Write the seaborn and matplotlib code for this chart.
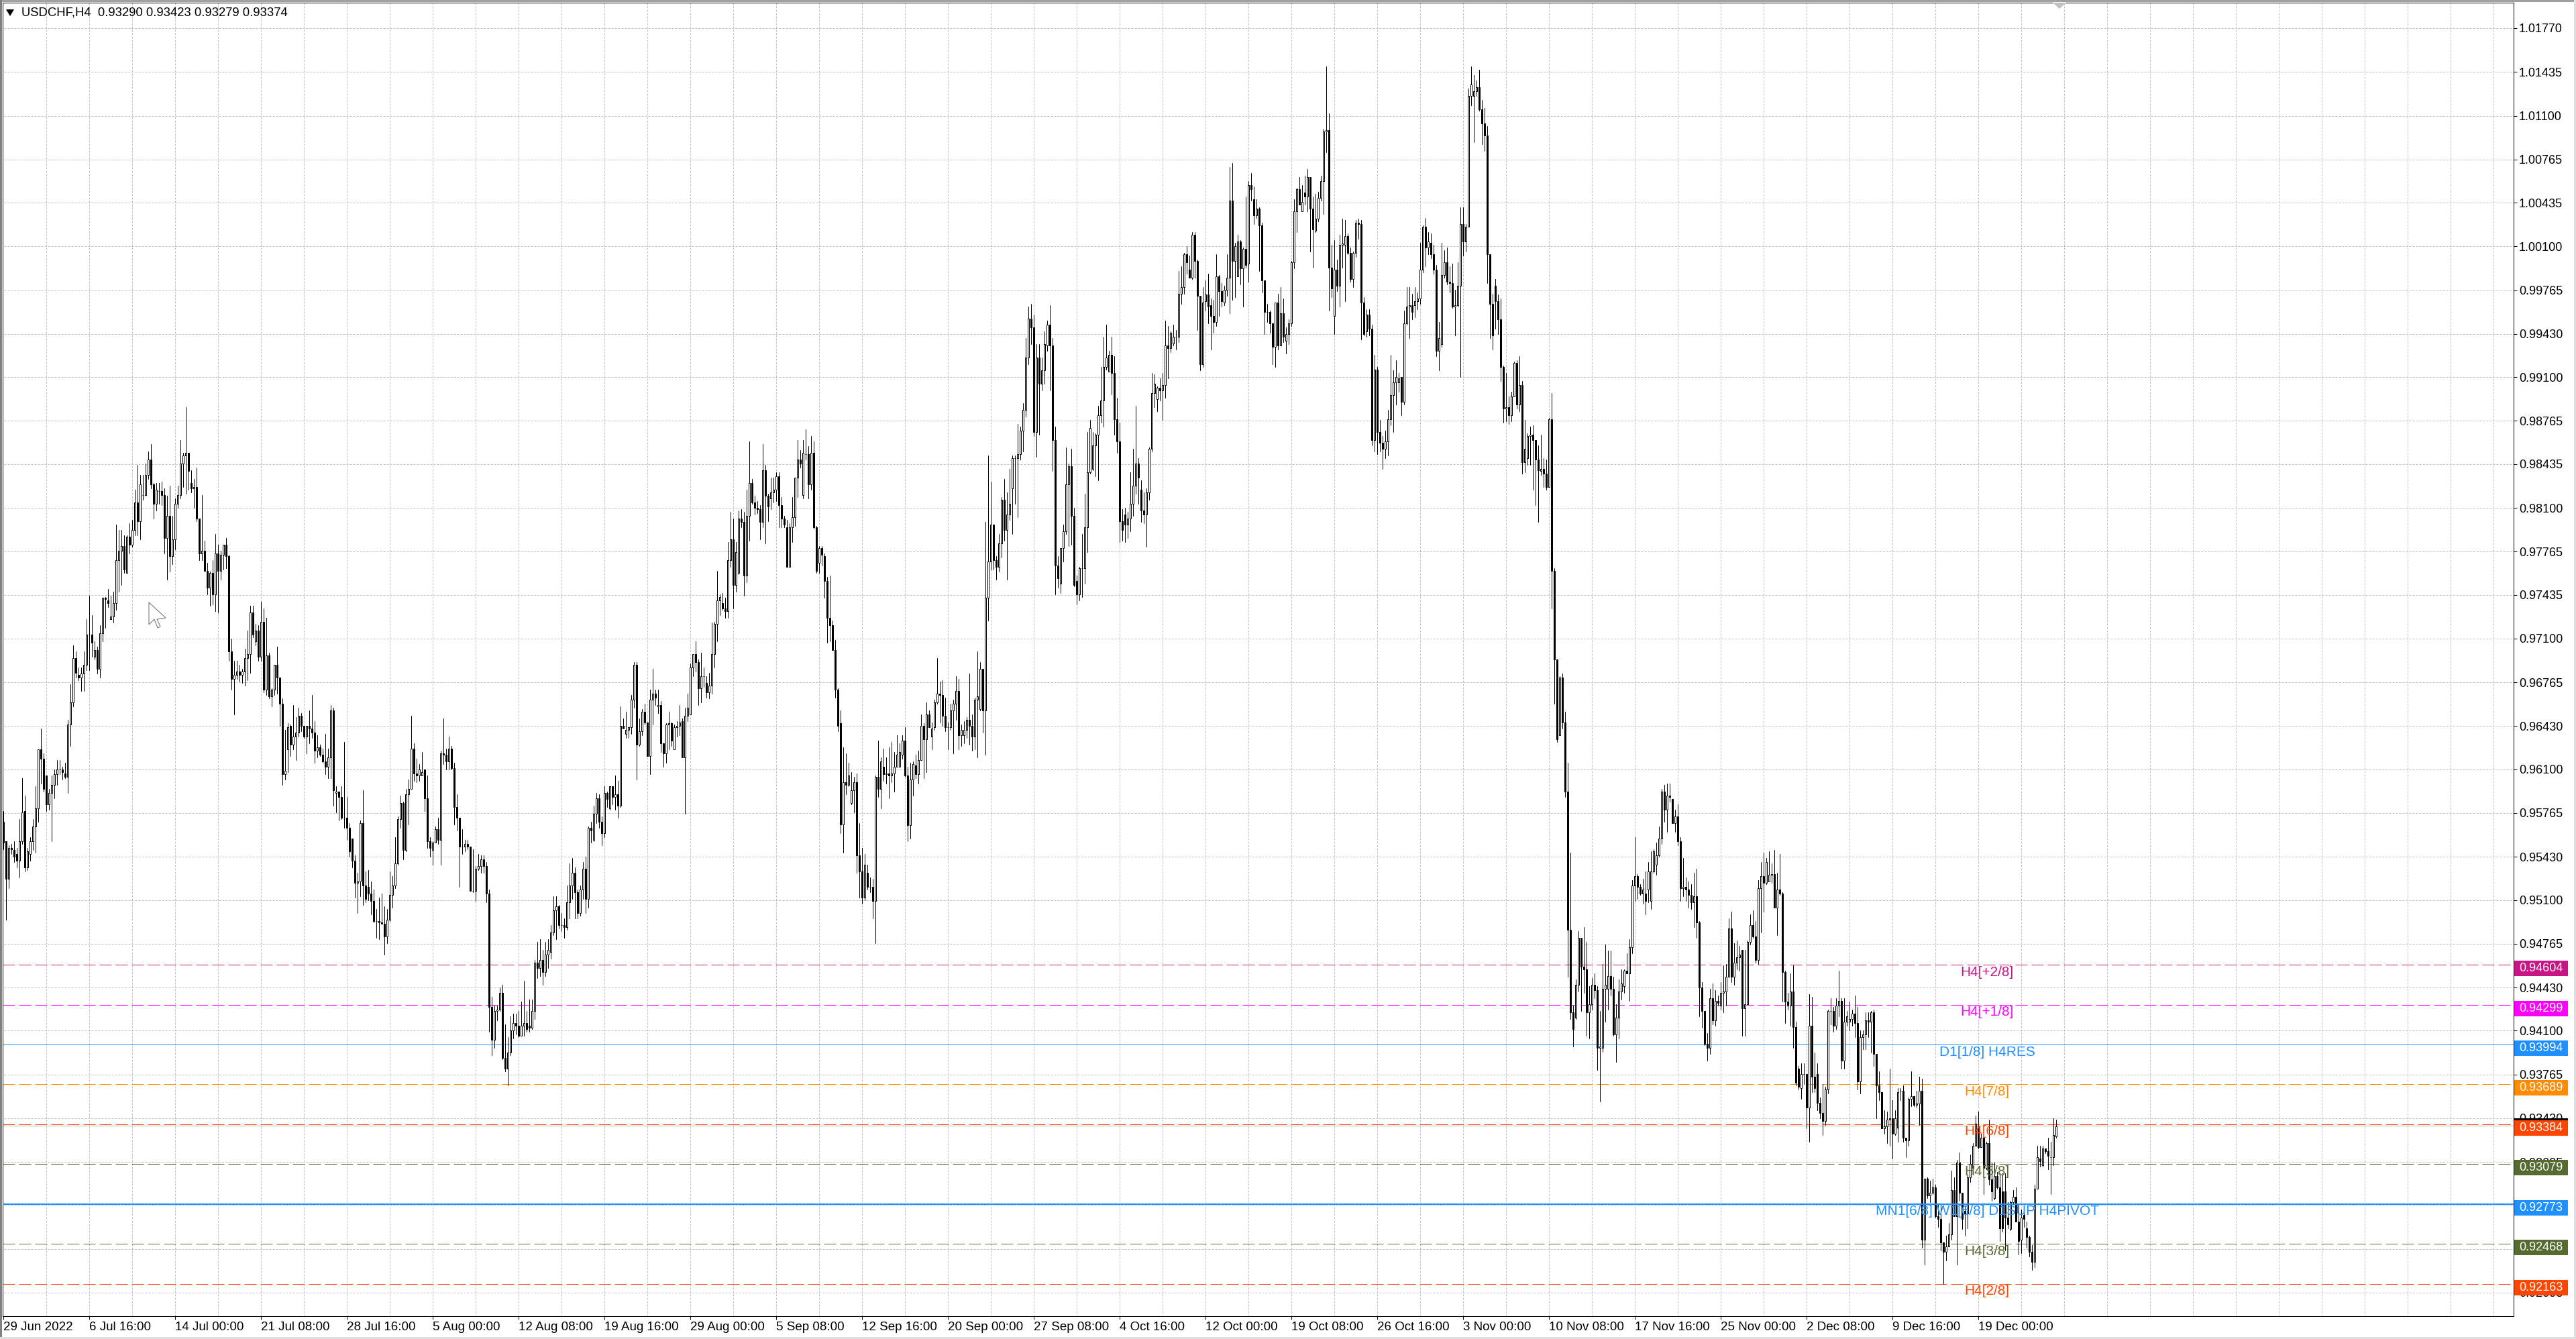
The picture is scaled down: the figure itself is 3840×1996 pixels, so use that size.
import numpy as np
import pandas as pd
import matplotlib
matplotlib.use('Agg')
import matplotlib.pyplot as plt
from matplotlib.patches import Polygon, Rectangle
from matplotlib.transforms import IdentityTransform
import seaborn as sns

# USDCHF H4 candles, in units of 0.0001
opens = [
9570,9555,9526,9550,9548,9545,9540,9555,9578,9535,9545,9555,9566,9580,9625,9618,9605,9583,9592,9598,
9606,9610,9610,9607,9604,9644,9661,9695,9682,9680,9683,9690,9713,9713,9696,9701,9687,9714,9741,9739,
9725,9727,9737,9770,9777,9781,9760,9788,9782,9793,9814,9800,9820,9820,9835,9847,9828,9813,9823,9823,
9820,9787,9804,9773,9786,9813,9820,9844,9850,9852,9829,9825,9826,9802,9775,9777,9762,9749,9760,9744,
9775,9762,9774,9782,9773,9700,9679,9682,9685,9682,9685,9695,9698,9730,9708,9716,9696,9723,9671,9697,
9666,9671,9690,9680,9660,9606,9625,9643,9629,9635,9638,9651,9643,9635,9643,9641,9638,9624,9627,9621,
9616,9612,9619,9655,9592,9593,9589,9573,9573,9565,9557,9540,9523,9524,9569,9521,9520,9515,9509,9494,
9494,9493,9492,9482,9495,9514,9521,9538,9572,9584,9548,9591,9595,9626,9607,9605,9605,9610,9588,9555,
9548,9554,9564,9556,9622,9621,9616,9626,9611,9581,9573,9551,9551,9553,9551,9517,9517,9534,9536,9541,
9536,9515,9428,9403,9425,9426,9439,9389,9381,9393,9410,9416,9414,9406,9414,9416,9414,9412,9425,9462,
9458,9464,9455,9468,9470,9485,9502,9505,9491,9491,9489,9508,9521,9531,9516,9500,9518,9534,9511,9565,
9556,9576,9588,9570,9561,9592,9580,9597,9589,9591,9582,9643,9637,9640,9642,9663,9690,9629,9639,9654,
9646,9620,9663,9668,9658,9659,9630,9622,9644,9645,9625,9642,9643,9647,9619,9651,9652,9688,9698,9692,
9672,9681,9676,9669,9674,9698,9721,9739,9737,9733,9731,9770,9786,9751,9760,9802,9799,9758,9804,9829,
9814,9810,9809,9799,9839,9819,9817,9822,9824,9834,9812,9802,9795,9765,9795,9803,9833,9847,9820,9851,
9851,9828,9852,9795,9768,9779,9773,9754,9726,9720,9701,9671,9645,9568,9600,9598,9584,9594,9600,9544,
9532,9512,9531,9520,9520,9509,9604,9595,9612,9606,9607,9605,9607,9612,9612,9621,9632,9605,9567,9602,
9613,9606,9617,9643,9633,9652,9635,9642,9661,9668,9667,9651,9642,9642,9655,9660,9670,9636,9636,9640,
9648,9643,9635,9663,9656,9687,9655,9741,9769,9797,9770,9765,9783,9816,9793,9805,9825,9848,9848,9851,
9869,9885,9925,9955,9948,9868,9925,9905,9915,9934,9950,9934,9862,9766,9752,9779,9792,9828,9842,9804,
9754,9744,9764,9764,9795,9837,9840,9858,9866,9881,9892,9918,9914,9927,9913,9878,9861,9800,9805,9797,
9802,9813,9827,9844,9824,9808,9805,9822,9855,9898,9893,9902,9900,9904,9934,9932,9936,9941,9941,9974,
9979,10004,9992,9986,10019,9999,9972,9920,9968,9973,9965,9957,9952,9987,9976,9967,9977,9986,10045,9999,
9987,10014,9993,10008,9997,10057,10046,10034,10039,10026,9984,9960,9960,9951,9933,9967,9934,9959,9938,9943,
9951,9998,10037,10054,10037,10051,10048,10063,10039,10022,10031,10047,10060,10098,10099,9994,9957,9992,9980,10011,
10011,10018,10005,9985,10005,10028,10027,9967,9945,9958,9947,9862,9916,9868,9860,9855,9861,9878,9896,9906,
9906,9910,9891,9951,9964,9965,9965,9968,9970,9992,10025,10009,10013,10004,9992,9930,9935,9988,9998,9983,
9982,9964,9965,9980,10027,10014,10025,10125,10125,10129,10132,10115,10104,10095,10004,9966,9980,9968,9954,9918,
9886,9887,9881,9895,9921,9889,9904,9845,9848,9865,9866,9862,9847,9838,9840,9836,9826,9878,9762,9694,
9636,9680,9646,9593,9487,9424,9420,9445,9481,9459,9457,9424,9430,9445,9441,9397,9397,9442,9442,9452,
9442,9407,9420,9440,9444,9456,9454,9474,9521,9528,9520,9515,9515,9518,9509,9532,9537,9544,9557,9593,
9579,9590,9587,9569,9574,9555,9519,9520,9518,9514,9508,9513,9493,9443,9425,9400,9397,9435,9418,9433,
9429,9439,9440,9451,9488,9451,9462,9466,9472,9427,9430,9478,9491,9482,9464,9519,9528,9523,9524,9529,
9530,9504,9518,9515,9455,9432,9429,9440,9413,9381,9366,9377,9377,9351,9414,9375,9377,9355,9347,9341,
9365,9425,9425,9414,9429,9433,9387,9417,9417,9419,9423,9416,9371,9405,9407,9418,9417,9424,9392,9368,
9363,9335,9337,9342,9343,9331,9336,9364,9364,9328,9326,9358,9360,9353,9354,9364,9250,9297,9284,9286,
9290,9268,9266,9248,9241,9245,9254,9288,9268,9309,9286,9272,9270,9298,9305,9322,9337,9321,9328,9305,
9324,9296,9282,9299,9290,9287,9287,9267,9258,9279,9283,9264,9250,9269,9259,9252,9241,9233,9289,9312,
9307,9320,9318,9313,9313,9329,
]
closes = [
9554,9526,9550,9549,9543,9540,9555,9577,9535,9547,9555,9566,9580,9625,9618,9595,9583,9592,9598,9606,
9610,9610,9608,9604,9644,9661,9695,9684,9680,9683,9690,9713,9713,9707,9701,9687,9714,9741,9740,9737,
9727,9737,9770,9777,9781,9763,9788,9782,9793,9814,9800,9828,9820,9835,9847,9828,9813,9824,9823,9820,
9787,9804,9773,9786,9813,9820,9844,9850,9852,9838,9825,9826,9802,9775,9777,9762,9749,9760,9744,9775,
9762,9774,9782,9773,9700,9679,9682,9685,9682,9685,9695,9698,9730,9713,9716,9696,9723,9671,9697,9666,
9671,9690,9680,9660,9606,9609,9642,9629,9635,9638,9651,9643,9635,9643,9641,9638,9624,9627,9621,9616,
9612,9619,9655,9594,9593,9589,9573,9573,9565,9547,9540,9523,9524,9569,9521,9511,9515,9509,9494,9494,
9493,9492,9482,9495,9514,9521,9538,9572,9584,9548,9591,9595,9626,9607,9605,9610,9608,9588,9555,9550,
9554,9564,9556,9622,9621,9616,9626,9611,9581,9573,9551,9551,9553,9551,9517,9517,9534,9536,9541,9536,
9515,9428,9403,9425,9426,9439,9389,9381,9393,9410,9416,9414,9406,9414,9416,9411,9412,9425,9462,9458,
9464,9455,9468,9472,9485,9502,9505,9491,9491,9489,9508,9521,9531,9516,9500,9518,9534,9511,9565,9563,
9576,9588,9570,9561,9592,9587,9597,9589,9591,9582,9643,9641,9640,9642,9663,9690,9629,9639,9654,9646,
9620,9663,9668,9665,9659,9630,9622,9644,9645,9632,9642,9643,9646,9619,9651,9657,9688,9698,9692,9672,
9681,9681,9669,9674,9698,9721,9739,9742,9733,9731,9770,9786,9751,9776,9802,9799,9758,9804,9829,9814,
9810,9809,9799,9839,9819,9811,9822,9824,9834,9812,9802,9797,9765,9795,9803,9833,9847,9844,9852,9851,
9828,9852,9795,9762,9779,9774,9754,9726,9720,9701,9671,9643,9568,9600,9598,9605,9594,9600,9544,9532,
9512,9537,9520,9520,9509,9604,9595,9616,9606,9607,9605,9607,9612,9621,9623,9632,9605,9567,9602,9614,
9606,9617,9643,9633,9652,9642,9641,9661,9668,9667,9651,9642,9642,9655,9660,9670,9636,9640,9640,9648,
9643,9635,9663,9666,9687,9655,9741,9769,9797,9770,9765,9783,9816,9793,9805,9813,9848,9848,9851,9869,
9885,9925,9955,9948,9868,9925,9905,9915,9935,9950,9934,9862,9766,9756,9779,9792,9828,9842,9804,9751,
9744,9764,9764,9795,9837,9871,9858,9866,9881,9892,9918,9925,9927,9913,9878,9861,9800,9793,9797,9802,
9813,9827,9844,9833,9808,9805,9822,9855,9898,9905,9902,9900,9904,9934,9932,9944,9941,9941,9974,9979,
10004,9998,9986,10019,9999,9972,9920,9967,9973,9964,9957,9952,9987,9976,9968,9977,9986,10045,9999,10010,
10014,9993,10008,9996,10057,10054,10034,10039,10026,9984,9960,9960,9951,9933,9967,9934,9959,9941,9943,9951,
9998,10037,10054,10042,10044,10048,10063,10039,10023,10031,10047,10060,10098,10099,9994,9978,9992,9980,10011,10012,
10018,10005,9985,10005,10028,10027,9967,9943,9958,9947,9862,9916,9868,9860,9855,9861,9878,9896,9906,9910,
9909,9891,9951,9964,9965,9960,9968,9970,9992,10025,10009,10014,10004,9992,9930,9940,9988,9998,9983,9982,
9964,9965,9980,10027,10014,10025,10125,10134,10129,10132,10115,10104,10095,10004,9966,9942,9968,9954,9918,9886,
9887,9881,9895,9921,9889,9904,9845,9855,9865,9866,9862,9847,9839,9840,9836,9826,9878,9762,9694,9633,
9680,9646,9593,9487,9424,9411,9445,9481,9459,9457,9424,9430,9445,9441,9397,9398,9442,9445,9452,9442,
9407,9420,9440,9446,9456,9454,9474,9521,9528,9520,9515,9518,9509,9532,9532,9547,9544,9557,9593,9579,
9590,9589,9569,9574,9555,9519,9520,9518,9514,9508,9513,9493,9443,9425,9400,9397,9435,9418,9433,9431,
9439,9440,9451,9488,9451,9462,9466,9468,9427,9430,9478,9491,9482,9464,9519,9528,9523,9539,9529,9530,
9504,9518,9515,9455,9432,9429,9440,9413,9370,9367,9377,9377,9351,9414,9375,9366,9355,9347,9341,9365,
9425,9425,9414,9429,9433,9387,9417,9421,9419,9423,9416,9371,9405,9407,9418,9417,9424,9392,9368,9363,
9335,9337,9342,9343,9331,9343,9363,9364,9328,9326,9358,9360,9353,9354,9364,9250,9297,9284,9286,9290,
9268,9266,9248,9241,9245,9254,9288,9268,9309,9286,9266,9270,9298,9308,9322,9339,9321,9328,9305,9324,
9296,9287,9299,9290,9259,9259,9267,9262,9279,9283,9264,9249,9267,9266,9252,9241,9233,9289,9313,9310,
9320,9318,9314,9313,9330,9337,
]
highs = [
9578,9555,9552,9553,9555,9550,9572,9603,9590,9550,9558,9572,9597,9625,9641,9622,9605,9595,9605,9610,
9617,9617,9612,9615,9648,9675,9705,9700,9688,9688,9700,9725,9743,9728,9708,9704,9720,9741,9742,9748,
9743,9746,9797,9793,9793,9789,9789,9798,9801,9824,9843,9835,9835,9844,9853,9859,9829,9829,9829,9830,
9825,9819,9827,9804,9817,9827,9862,9852,9887,9852,9839,9832,9841,9802,9820,9785,9768,9761,9770,9790,
9782,9777,9782,9787,9774,9710,9693,9693,9690,9687,9702,9716,9735,9735,9721,9720,9738,9733,9726,9699,
9672,9690,9704,9680,9664,9640,9645,9644,9659,9650,9657,9653,9643,9643,9655,9667,9647,9636,9629,9626,
9637,9626,9659,9657,9597,9593,9597,9631,9589,9569,9557,9544,9531,9571,9594,9532,9533,9524,9518,9503,
9512,9515,9505,9503,9532,9528,9558,9574,9590,9585,9595,9602,9651,9630,9618,9614,9623,9610,9605,9558,
9555,9566,9573,9624,9649,9626,9635,9628,9615,9591,9573,9564,9556,9556,9551,9549,9536,9545,9544,9544,
9539,9518,9436,9429,9429,9443,9445,9415,9405,9421,9423,9423,9425,9432,9448,9425,9434,9434,9464,9478,
9480,9472,9478,9480,9491,9513,9513,9506,9500,9496,9521,9538,9542,9535,9518,9521,9539,9543,9566,9570,
9582,9592,9591,9574,9597,9593,9597,9597,9605,9601,9658,9649,9654,9642,9667,9692,9692,9649,9656,9660,
9646,9671,9687,9671,9671,9662,9630,9645,9654,9646,9644,9647,9659,9649,9657,9668,9691,9698,9708,9694,
9699,9688,9681,9684,9722,9723,9762,9744,9745,9741,9784,9807,9802,9784,9808,9809,9807,9824,9861,9832,
9819,9815,9812,9859,9843,9821,9833,9833,9837,9837,9818,9804,9801,9798,9818,9833,9862,9854,9862,9870,
9857,9865,9861,9796,9781,9781,9775,9757,9758,9724,9709,9672,9655,9627,9622,9615,9608,9604,9607,9569,
9550,9545,9537,9527,9526,9605,9632,9619,9626,9619,9627,9631,9623,9636,9630,9636,9642,9612,9615,9616,
9621,9624,9652,9645,9661,9655,9646,9663,9695,9677,9678,9665,9646,9660,9663,9681,9679,9644,9647,9650,
9683,9652,9665,9700,9692,9687,9799,9850,9830,9797,9773,9790,9818,9832,9822,9840,9850,9850,9874,9872,
9890,9940,9964,9966,9958,9935,9935,9925,9945,9953,9965,9940,9872,9773,9779,9797,9856,9844,9855,9810,
9758,9765,9790,9821,9868,9877,9868,9867,9888,9918,9941,9950,9930,9941,9926,9894,9875,9809,9810,9807,
9837,9855,9888,9848,9831,9822,9825,9856,9913,9912,9903,9909,9913,9953,9949,9945,9950,9946,9991,9995,
10005,10010,10003,10021,10021,10000,9972,9979,9984,9989,9970,9969,10004,9988,9982,9980,10004,10071,10074,10013,
10019,10015,10009,10048,10060,10066,10056,10046,10040,10028,9984,9966,9961,9951,9967,9974,9979,9970,9948,9954,
9999,10046,10055,10063,10057,10064,10069,10063,10048,10050,10052,10064,10100,10148,10112,10011,10015,10000,10019,10031,
10030,10020,10009,10006,10030,10031,10030,9971,9962,9962,9950,9927,9918,9877,9865,9869,9885,9927,9915,9923,
9913,9910,9961,9979,9979,9974,9979,9975,10013,10026,10032,10021,10020,10011,9996,9952,10013,10007,10009,9995,
9997,9977,9998,10040,10040,10027,10131,10148,10141,10137,10145,10122,10116,10102,10004,9974,9985,9973,9970,9919,
9913,9895,9899,9922,9923,9926,9907,9877,9867,9872,9873,9862,9858,9866,9848,9847,9879,9898,9764,9694,
9681,9683,9654,9615,9546,9429,9449,9486,9481,9489,9478,9444,9450,9454,9444,9425,9461,9476,9471,9471,
9451,9430,9449,9457,9457,9469,9480,9525,9558,9530,9522,9526,9532,9539,9547,9549,9554,9566,9595,9598,
9599,9599,9587,9579,9583,9558,9542,9527,9524,9522,9531,9534,9494,9447,9425,9408,9442,9446,9441,9437,
9447,9460,9461,9496,9501,9477,9479,9475,9472,9472,9479,9499,9502,9494,9525,9539,9546,9542,9547,9538,
9548,9531,9545,9516,9456,9439,9454,9460,9417,9383,9385,9385,9377,9438,9436,9393,9385,9359,9369,9367,
9426,9435,9428,9435,9456,9435,9435,9425,9432,9426,9437,9428,9410,9410,9424,9424,9425,9426,9392,9379,
9363,9349,9348,9381,9357,9349,9366,9366,9368,9328,9359,9379,9359,9364,9375,9373,9296,9298,9295,9297,
9292,9278,9278,9248,9253,9263,9303,9298,9311,9317,9286,9276,9300,9315,9324,9345,9348,9331,9330,9325,
9342,9309,9309,9302,9301,9301,9301,9279,9280,9288,9290,9277,9273,9272,9264,9253,9246,9292,9322,9322,
9322,9320,9328,9325,9343,9342,
]
lows = [
9549,9495,9519,9545,9539,9535,9527,9553,9532,9533,9540,9548,9546,9570,9599,9593,9578,9579,9555,9588,
9598,9606,9602,9603,9592,9628,9658,9680,9678,9670,9670,9686,9686,9696,9694,9683,9680,9708,9718,9734,
9725,9722,9732,9746,9751,9760,9760,9775,9780,9789,9789,9786,9816,9819,9832,9825,9802,9808,9813,9812,
9775,9755,9761,9767,9778,9810,9817,9826,9821,9824,9822,9810,9800,9770,9770,9762,9744,9735,9736,9731,
9730,9755,9763,9764,9693,9671,9652,9679,9677,9676,9674,9678,9684,9711,9705,9693,9693,9669,9667,9664,
9658,9667,9668,9643,9598,9602,9608,9620,9625,9617,9635,9639,9634,9622,9630,9634,9615,9619,9620,9615,
9606,9603,9603,9582,9577,9571,9572,9565,9556,9543,9535,9512,9500,9513,9506,9508,9510,9499,9493,9481,
9480,9492,9468,9477,9494,9504,9519,9537,9565,9541,9547,9568,9595,9601,9600,9601,9605,9578,9550,9543,
9537,9554,9553,9537,9614,9610,9610,9610,9568,9563,9520,9545,9547,9549,9517,9516,9509,9533,9531,9531,
9508,9409,9391,9397,9418,9425,9388,9379,9368,9391,9404,9407,9405,9406,9406,9409,9409,9411,9419,9450,
9452,9445,9452,9458,9465,9483,9480,9488,9486,9481,9487,9496,9511,9496,9496,9498,9511,9500,9504,9554,
9555,9569,9565,9552,9558,9581,9579,9583,9579,9573,9581,9641,9634,9634,9637,9657,9602,9628,9636,9644,
9620,9606,9644,9659,9653,9623,9612,9615,9625,9628,9625,9635,9636,9619,9576,9647,9652,9681,9685,9659,
9661,9673,9665,9664,9668,9688,9708,9728,9732,9726,9726,9765,9733,9746,9759,9795,9743,9753,9785,9813,
9805,9806,9786,9795,9783,9800,9809,9814,9815,9795,9795,9795,9765,9765,9784,9796,9818,9841,9817,9847,
9817,9824,9794,9760,9760,9766,9741,9707,9708,9701,9665,9639,9561,9546,9591,9597,9583,9577,9531,9512,
9507,9510,9518,9516,9496,9477,9589,9580,9601,9599,9588,9600,9593,9612,9612,9618,9604,9555,9557,9590,
9603,9599,9617,9603,9608,9642,9625,9640,9660,9646,9643,9639,9625,9640,9622,9648,9625,9628,9630,9634,
9629,9624,9625,9619,9655,9638,9621,9724,9763,9763,9755,9761,9772,9785,9755,9801,9790,9813,9803,9847,
9853,9880,9920,9935,9865,9849,9866,9900,9905,9930,9900,9838,9744,9749,9745,9769,9790,9781,9782,9750,
9736,9739,9742,9752,9776,9836,9839,9834,9831,9875,9872,9916,9914,9897,9866,9852,9784,9785,9784,9787,
9792,9804,9821,9813,9799,9798,9780,9816,9853,9887,9884,9892,9877,9894,9909,9929,9934,9931,9937,9966,
9974,9989,9986,9985,9986,9946,9915,9918,9961,9951,9931,9944,9949,9957,9964,9965,9972,9959,9969,9971,
9987,9981,9964,9994,9983,10045,10027,10032,9991,9975,9943,9952,9944,9920,9918,9931,9934,9937,9928,9935,
9949,9993,10021,10042,10041,10042,10037,10006,9994,10021,10029,10045,10035,10082,9961,9971,9943,9976,9964,9994,
9968,10004,9983,9979,10002,10016,9939,9942,9941,9942,9858,9853,9851,9853,9840,9848,9850,9873,9868,9889,
9899,9881,9889,9950,9940,9954,9956,9962,9966,9990,9995,10004,10001,9989,9926,9915,9933,9986,9981,9975,
9963,9942,9964,9910,10003,10006,10025,10118,10090,10125,10114,10088,10083,9982,9940,9931,9947,9943,9907,9875,
9876,9874,9876,9895,9886,9884,9836,9837,9843,9843,9824,9812,9799,9835,9826,9824,9826,9733,9660,9631,
9636,9641,9589,9451,9419,9398,9419,9440,9425,9439,9406,9404,9426,9435,9380,9356,9394,9417,9426,9437,
9406,9386,9404,9434,9439,9454,9433,9469,9509,9511,9514,9507,9499,9508,9503,9531,9529,9543,9553,9570,
9562,9585,9569,9562,9552,9509,9513,9509,9504,9503,9489,9481,9421,9412,9399,9387,9392,9415,9414,9429,
9426,9424,9429,9451,9447,9445,9457,9456,9406,9406,9430,9476,9481,9462,9461,9485,9501,9522,9524,9523,
9504,9483,9514,9432,9416,9426,9414,9397,9368,9365,9358,9369,9335,9325,9363,9363,9349,9343,9330,9338,
9362,9415,9409,9411,9421,9381,9381,9414,9410,9414,9405,9365,9362,9396,9396,9405,9393,9383,9343,9357,
9335,9331,9324,9322,9312,9330,9325,9357,9325,9313,9322,9352,9352,9351,9338,9244,9231,9282,9279,9285,
9267,9260,9242,9216,9234,9245,9250,9268,9231,9280,9258,9253,9259,9294,9305,9322,9320,9321,9285,9304,
9292,9280,9281,9289,9249,9256,9242,9259,9257,9278,9264,9239,9240,9260,9244,9237,9227,9229,9289,9306,
9306,9316,9304,9285,9307,9328,
]

# axis labels
price_ticks = [1.01770, 1.01435, 1.01100, 1.00765, 1.00435, 1.00100, 0.99765, 0.99430, 0.99100, 0.98765,
               0.98435, 0.98100, 0.97765, 0.97435, 0.97100, 0.96765, 0.96430, 0.96100, 0.95765, 0.95430,
               0.95100, 0.94765, 0.94430, 0.94100, 0.93765, 0.93430, 0.93095, 0.92765, 0.92430, 0.92095]
date_labels = ['29 Jun 2022', '6 Jul 16:00', '14 Jul 00:00', '21 Jul 08:00', '28 Jul 16:00', '5 Aug 00:00',
               '12 Aug 08:00', '19 Aug 16:00', '29 Aug 00:00', '5 Sep 08:00', '12 Sep 16:00', '20 Sep 00:00',
               '27 Sep 08:00', '4 Oct 16:00', '12 Oct 00:00', '19 Oct 08:00', '26 Oct 16:00', '3 Nov 00:00',
               '10 Nov 08:00', '17 Nov 16:00', '25 Nov 00:00', '2 Dec 08:00', '9 Dec 16:00', '19 Dec 00:00']

# murrey style levels
level_values = [0.94604, 0.94299, 0.93994, 0.93689, 0.93384, 0.93079, 0.92773, 0.92468, 0.92163]
level_names = ['H4[+2/8]', 'H4[+1/8]', 'D1[1/8] H4RES', 'H4[7/8]', 'H4[6/8]', 'H4[5/8]',
               'MN1[6/8] W1[6/8] D1SUP H4PIVOT', 'H4[3/8]', 'H4[2/8]']
level_colors = ['#C71585', '#FF00FF', '#1E90FF', '#FF8C00', '#FF4500', '#556B2F', '#1E90FF', '#556B2F', '#FF4500']
bid_price = 0.93374
header = 'USDCHF,H4  0.93290 0.93423 0.93279 0.93374'

W, H = 3840, 1996
LEFT, TOP, RIGHT, BOTTOM = 4, 4, 3747, 1962
PX = 0.72  # one pixel in points at dpi 100

sns.set_theme(style='white')
plt.rcParams['font.family'] = ['Liberation Sans', 'DejaVu Sans']
plt.rcParams['axes.linewidth'] = PX

df = pd.DataFrame({'open': opens, 'high': highs, 'low': lows, 'close': closes}) / 10000
df['bar'] = np.arange(len(df))

fig = plt.figure(figsize=(W / 100, H / 100), dpi=100, facecolor='white')
ax = fig.add_axes([LEFT / W, 1 - BOTTOM / H, (RIGHT - LEFT) / W, (BOTTOM - TOP) / H])

# grid first
ax.set_axisbelow(True)
ax.hlines(price_ticks, -1, 940, color='#c0c0c0', lw=PX, linestyles=[(0, (3, 2))], zorder=0.5)
ax.vlines(np.arange(16, 940, 16), 0.9, 1.03, color='#c0c0c0', lw=PX, linestyles=[(0, (3, 2))], zorder=0.5)

# levels
for val, col in zip(level_values, level_colors):
    if val == 0.93994:
        ax.axhline(val, color=col, lw=PX, zorder=1)
    elif val == 0.92773:
        ax.axhline(val, color=col, lw=2 * PX, zorder=5)
    else:
        ax.axhline(val, color=col, lw=PX, linestyle=(0, (18, 6)), zorder=1)
ax.axhline(bid_price, color='#c0c0c0', lw=PX, zorder=1)

# wicks
wicks = df.melt(id_vars='bar', value_vars=['high', 'low'], value_name='price')
sns.lineplot(data=wicks, x='bar', y='price', units='bar', estimator=None, color='black',
             lw=PX, legend=False, ax=ax, zorder=2)

# bodies
bottoms = df[['open', 'close']].min(axis=1)
sizes = (df['close'] - df['open']).abs()
face = np.where(df['close'] >= df['open'], 'white', 'black')
ax.bar(df['bar'], sizes, bottom=bottoms, width=0.5, color=face, edgecolor='black', linewidth=PX, zorder=3)

ax.set_xlim(-(5.3 - LEFT) / 4, (RIGHT - 5.3) / 4)
ax.set_ylim(1.0177 - (BOTTOM - 42) / 19483, 1.0177 + (42 - TOP) / 19483)
ax.set_xlabel('')
ax.set_ylabel('')

ax.yaxis.tick_right()
ax.set_yticks(price_ticks)
ax.set_yticklabels([f'{v:.5f}' for v in price_ticks], fontsize=13, color='black')
ax.set_xticks(np.arange(len(date_labels)) * 32)
ax.set_xticklabels(date_labels, fontsize=13.5, color='black', ha='left')
ax.tick_params(axis='y', length=3.6, width=PX, pad=2, color='black', left=False, right=True)
ax.tick_params(axis='x', length=3.6, width=PX, pad=2.5, color='black', bottom=True)
for side in ax.spines.values():
    side.set_color('black')
    side.set_linewidth(PX)

# level names
for val, name, col in zip(level_values, level_names, level_colors):
    ax.annotate(name, xy=((2962 - LEFT) / (RIGHT - LEFT), val), xycoords=('axes fraction', 'data'),
                xytext=(0, -8), textcoords='offset points', ha='center', va='center',
                fontsize=15, color=col, zorder=6)

fig.canvas.draw()


def y_px(val):
    # display y in pixels for a price
    return ax.transData.transform((0, val))[1]


# price boxes on the right axis
ident = IdentityTransform()
fig.add_artist(Rectangle((3748, y_px(bid_price) - 12), 80, 23, transform=ident, color='black', lw=0, zorder=7))
for val, col in zip(level_values, level_colors):
    fig.add_artist(Rectangle((3748, y_px(val) - 17), 80, 23, transform=ident, color=col, lw=0, zorder=8))
    fig.text(3788 / W, (y_px(val) - 5.5) / H, f'{val:.5f}', color='white', fontsize=13,
             ha='center', va='center', zorder=9)

fig.text(32 / W, 1 - 19 / H, header, fontsize=13.3, color='black', ha='left', va='center')
fig.add_artist(Polygon([(9 / W, 1 - 14 / H), (21 / W, 1 - 14 / H), (15 / W, 1 - 24 / H)],
                       transform=fig.transFigure, color='black', lw=0))

# mouse pointer left on the chart
cursor = [(222, 898), (247, 921), (234, 923), (239, 934), (235, 936), (230, 923), (222, 931)]
fig.add_artist(Polygon([(x / W, 1 - y / H) for x, y in cursor], transform=fig.transFigure,
                       facecolor='white', edgecolor='#707070', lw=PX, zorder=6))
# shift marker at the top
fig.add_artist(Polygon([(3060 / W, 1 - 4 / H), (3080 / W, 1 - 4 / H), (3070 / W, 1 - 13 / H)],
                       transform=fig.transFigure, color='#c0c0c0', lw=0, zorder=6))

# window edges
fig.add_artist(Rectangle((0, 1 - 3 / H), 1, 3 / H, transform=fig.transFigure, color='#a0a0a0', lw=0))
fig.add_artist(Rectangle((0, 0), 3 / W, 1, transform=fig.transFigure, color='#808080', lw=0))
fig.add_artist(Rectangle((1 - 3 / W, 0), 3 / W, 1, transform=fig.transFigure, color='#e0e0e0', lw=0))
fig.add_artist(Rectangle((0, 0), 1, 3 / H, transform=fig.transFigure, color='#e0e0e0', lw=0))

fig.savefig('out.png', dpi=100, facecolor='white')
